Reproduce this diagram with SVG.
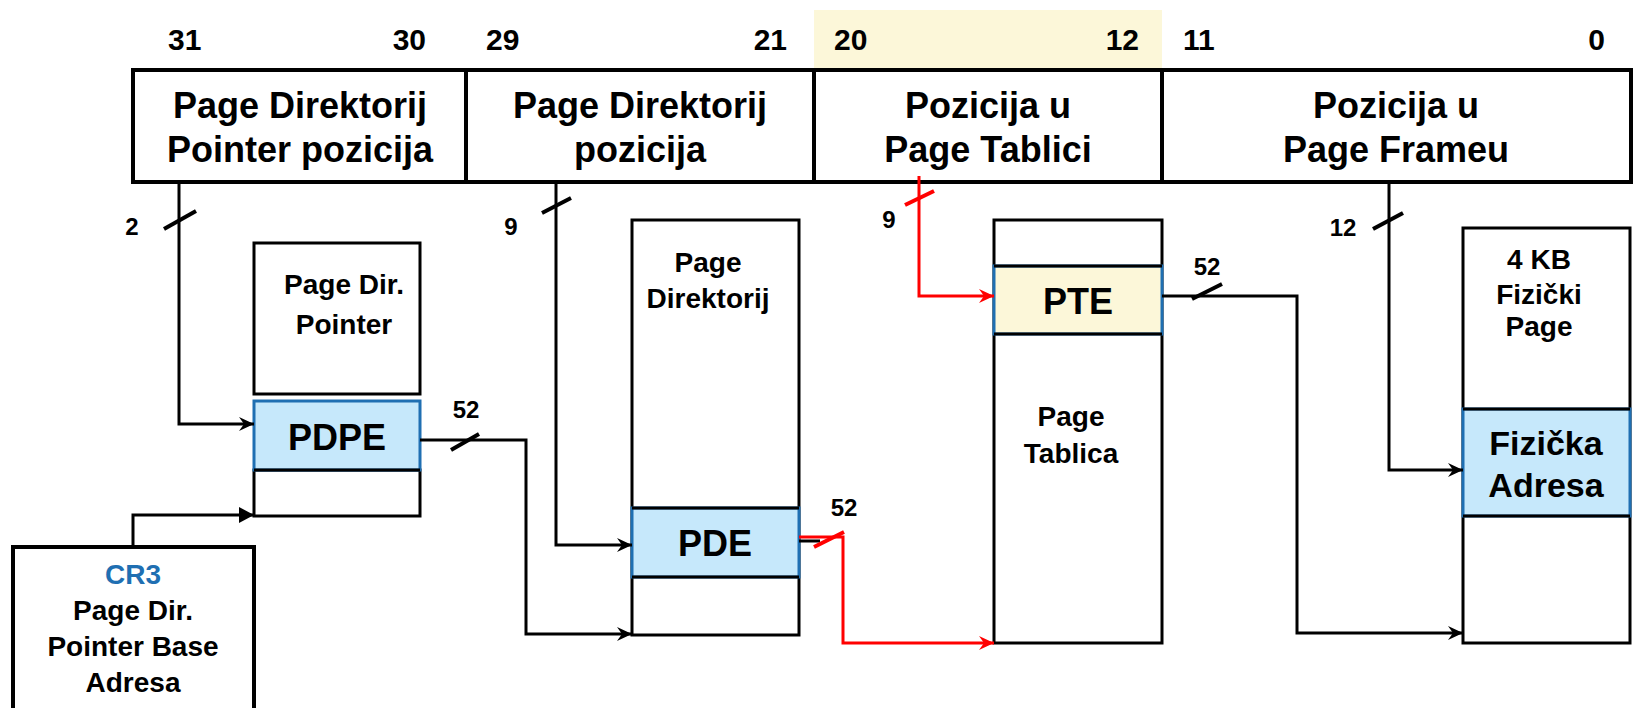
<svg xmlns="http://www.w3.org/2000/svg" width="1634" height="708" viewBox="0 0 1634 708">
<style>
text{font-family:"Liberation Sans",Arial,sans-serif;font-weight:bold;fill:#000}
.bit{font-size:30px}
.hd{font-size:36px;text-anchor:middle}
.lbl{font-size:28px;text-anchor:middle}
.big{font-size:36px;text-anchor:middle}
.num{font-size:24px;text-anchor:middle}
.box{fill:#fff;stroke:#000;stroke-width:3}
.hbox{fill:#fff;stroke:#000;stroke-width:4}
.ent{fill:#C6E8FB;stroke:#1F6FB2;stroke-width:3}
.pte{fill:#FCF7D9;stroke:#1F6FB2;stroke-width:3}
.edge{stroke:#000;stroke-width:3}
.conn{fill:none;stroke:#000;stroke-width:3}
.red{fill:none;stroke:#FF0000;stroke-width:3}
.tick{stroke:#000;stroke-width:4}
.rtick{stroke:#FF0000;stroke-width:4}
</style>
<defs>
<marker id="arr" markerUnits="userSpaceOnUse" markerWidth="16" markerHeight="14" refX="15" refY="7" orient="auto"><path d="M0,0 L15,7 L0,14 L5,7 z" fill="#000"/></marker>
<marker id="arrR" markerUnits="userSpaceOnUse" markerWidth="16" markerHeight="14" refX="15" refY="7" orient="auto"><path d="M0,0 L15,7 L0,14 L5,7 z" fill="#FF0000"/></marker>
<marker id="tri" markerUnits="userSpaceOnUse" markerWidth="16" markerHeight="16" refX="15" refY="8" orient="auto"><path d="M0,0 L15,8 L0,16 z" fill="#000"/></marker>
</defs>

<g id="header">
<rect x="814" y="10" width="348" height="60" fill="#FCF7D9"/>
<text class="bit" x="168" y="50">31</text>
<text class="bit" x="426" y="50" text-anchor="end">30</text>
<text class="bit" x="486" y="50">29</text>
<text class="bit" x="787" y="50" text-anchor="end">21</text>
<text class="bit" x="834" y="50">20</text>
<text class="bit" x="1139" y="50" text-anchor="end">12</text>
<text class="bit" x="1183" y="50">11</text>
<text class="bit" x="1605" y="50" text-anchor="end">0</text>
<rect class="hbox" x="133" y="70" width="1498" height="112"/>
<line class="hbox" x1="466" y1="70" x2="466" y2="182"/>
<line class="hbox" x1="814" y1="70" x2="814" y2="182"/>
<line class="hbox" x1="1162" y1="70" x2="1162" y2="182"/>
<text class="hd" x="300" y="118">Page Direktorij</text>
<text class="hd" x="300" y="162">Pointer pozicija</text>
<text class="hd" x="640" y="118">Page Direktorij</text>
<text class="hd" x="640" y="162">pozicija</text>
<text class="hd" x="988" y="118">Pozicija u</text>
<text class="hd" x="988" y="162">Page Tablici</text>
<text class="hd" x="1396" y="118">Pozicija u</text>
<text class="hd" x="1396" y="162">Page Frameu</text>
</g>

<g id="cr3">
<rect class="hbox" x="13" y="547" width="241" height="180"/>
<text class="lbl" x="133" y="584" style="fill:#1F6FB2">CR3</text>
<text class="lbl" x="133" y="620">Page Dir.</text>
<text class="lbl" x="133" y="656">Pointer Base</text>
<text class="lbl" x="133" y="692">Adresa</text>
</g>

<g id="pdp">
<rect class="box" x="254" y="243" width="166" height="151"/>
<text class="lbl" x="344" y="294">Page Dir.</text>
<text class="lbl" x="344" y="334">Pointer</text>
<rect class="box" x="254" y="470" width="166" height="46"/>
<rect class="ent" x="254" y="401" width="166" height="69"/>
<line class="edge" x1="254" y1="470" x2="420" y2="470"/>
<text class="big" x="337" y="450">PDPE</text>
</g>

<g id="pd">
<rect class="box" x="632" y="220" width="167" height="415"/>
<text class="lbl" x="708" y="272">Page</text>
<text class="lbl" x="708" y="308">Direktorij</text>
<rect class="ent" x="632" y="508" width="167" height="69"/>
<line class="edge" x1="632" y1="508" x2="799" y2="508"/>
<line class="edge" x1="632" y1="577" x2="799" y2="577"/>
<text class="big" x="715" y="556">PDE</text>
</g>

<g id="pt">
<rect class="box" x="994" y="220" width="168" height="423"/>
<rect class="pte" x="994" y="266" width="168" height="68"/>
<line class="edge" x1="994" y1="266" x2="1162" y2="266"/>
<line class="edge" x1="994" y1="334" x2="1162" y2="334"/>
<text class="big" x="1078" y="314">PTE</text>
<text class="lbl" x="1071" y="426">Page</text>
<text class="lbl" x="1071" y="463">Tablica</text>
</g>

<g id="page">
<rect class="box" x="1463" y="228" width="167" height="415"/>
<text class="lbl" x="1539" y="269">4 KB</text>
<text class="lbl" x="1539" y="304">Fizički</text>
<text class="lbl" x="1539" y="336">Page</text>
<rect class="ent" x="1463" y="409" width="167" height="107"/>
<line class="edge" x1="1463" y1="409" x2="1630" y2="409"/>
<line class="edge" x1="1463" y1="516" x2="1630" y2="516"/>
<text x="1546" y="455" style="font-size:34px;text-anchor:middle">Fizička</text>
<text x="1546" y="497" style="font-size:34px;text-anchor:middle">Adresa</text>
</g>

<g id="connectors">
<path class="conn" d="M179,182 V424 H254" marker-end="url(#arr)"/>
<line class="tick" x1="164" y1="229" x2="196" y2="211"/>
<text class="num" x="132" y="235">2</text>

<path class="conn" d="M133,547 V515 H254" marker-end="url(#tri)"/>

<path class="conn" d="M420,440 H526 V634 H632" marker-end="url(#arr)"/>
<line class="tick" x1="451" y1="450" x2="479" y2="434"/>
<text class="num" x="466" y="418">52</text>

<path class="conn" d="M556,182 V545 H632" marker-end="url(#arr)"/>
<line class="tick" x1="542" y1="213" x2="571" y2="198"/>
<text class="num" x="511" y="235">9</text>

<line class="edge" x1="799" y1="541" x2="820" y2="541"/>
<path class="red" d="M799,537 H843 V643 H994" marker-end="url(#arrR)"/>
<line class="rtick" x1="814" y1="547" x2="844" y2="532"/>
<text class="num" x="844" y="516">52</text>

<path class="red" d="M919,176 V296 H994" marker-end="url(#arrR)"/>
<line class="rtick" x1="905" y1="205" x2="934" y2="191"/>
<text class="num" x="889" y="228">9</text>

<path class="conn" d="M1162,296 H1297 V633 H1463" marker-end="url(#arr)"/>
<line class="tick" x1="1192" y1="299" x2="1222" y2="284"/>
<text class="num" x="1207" y="275">52</text>

<path class="conn" d="M1389,182 V470 H1463" marker-end="url(#arr)"/>
<line class="tick" x1="1373" y1="229" x2="1403" y2="213"/>
<text class="num" x="1343" y="236">12</text>
</g>
</svg>
